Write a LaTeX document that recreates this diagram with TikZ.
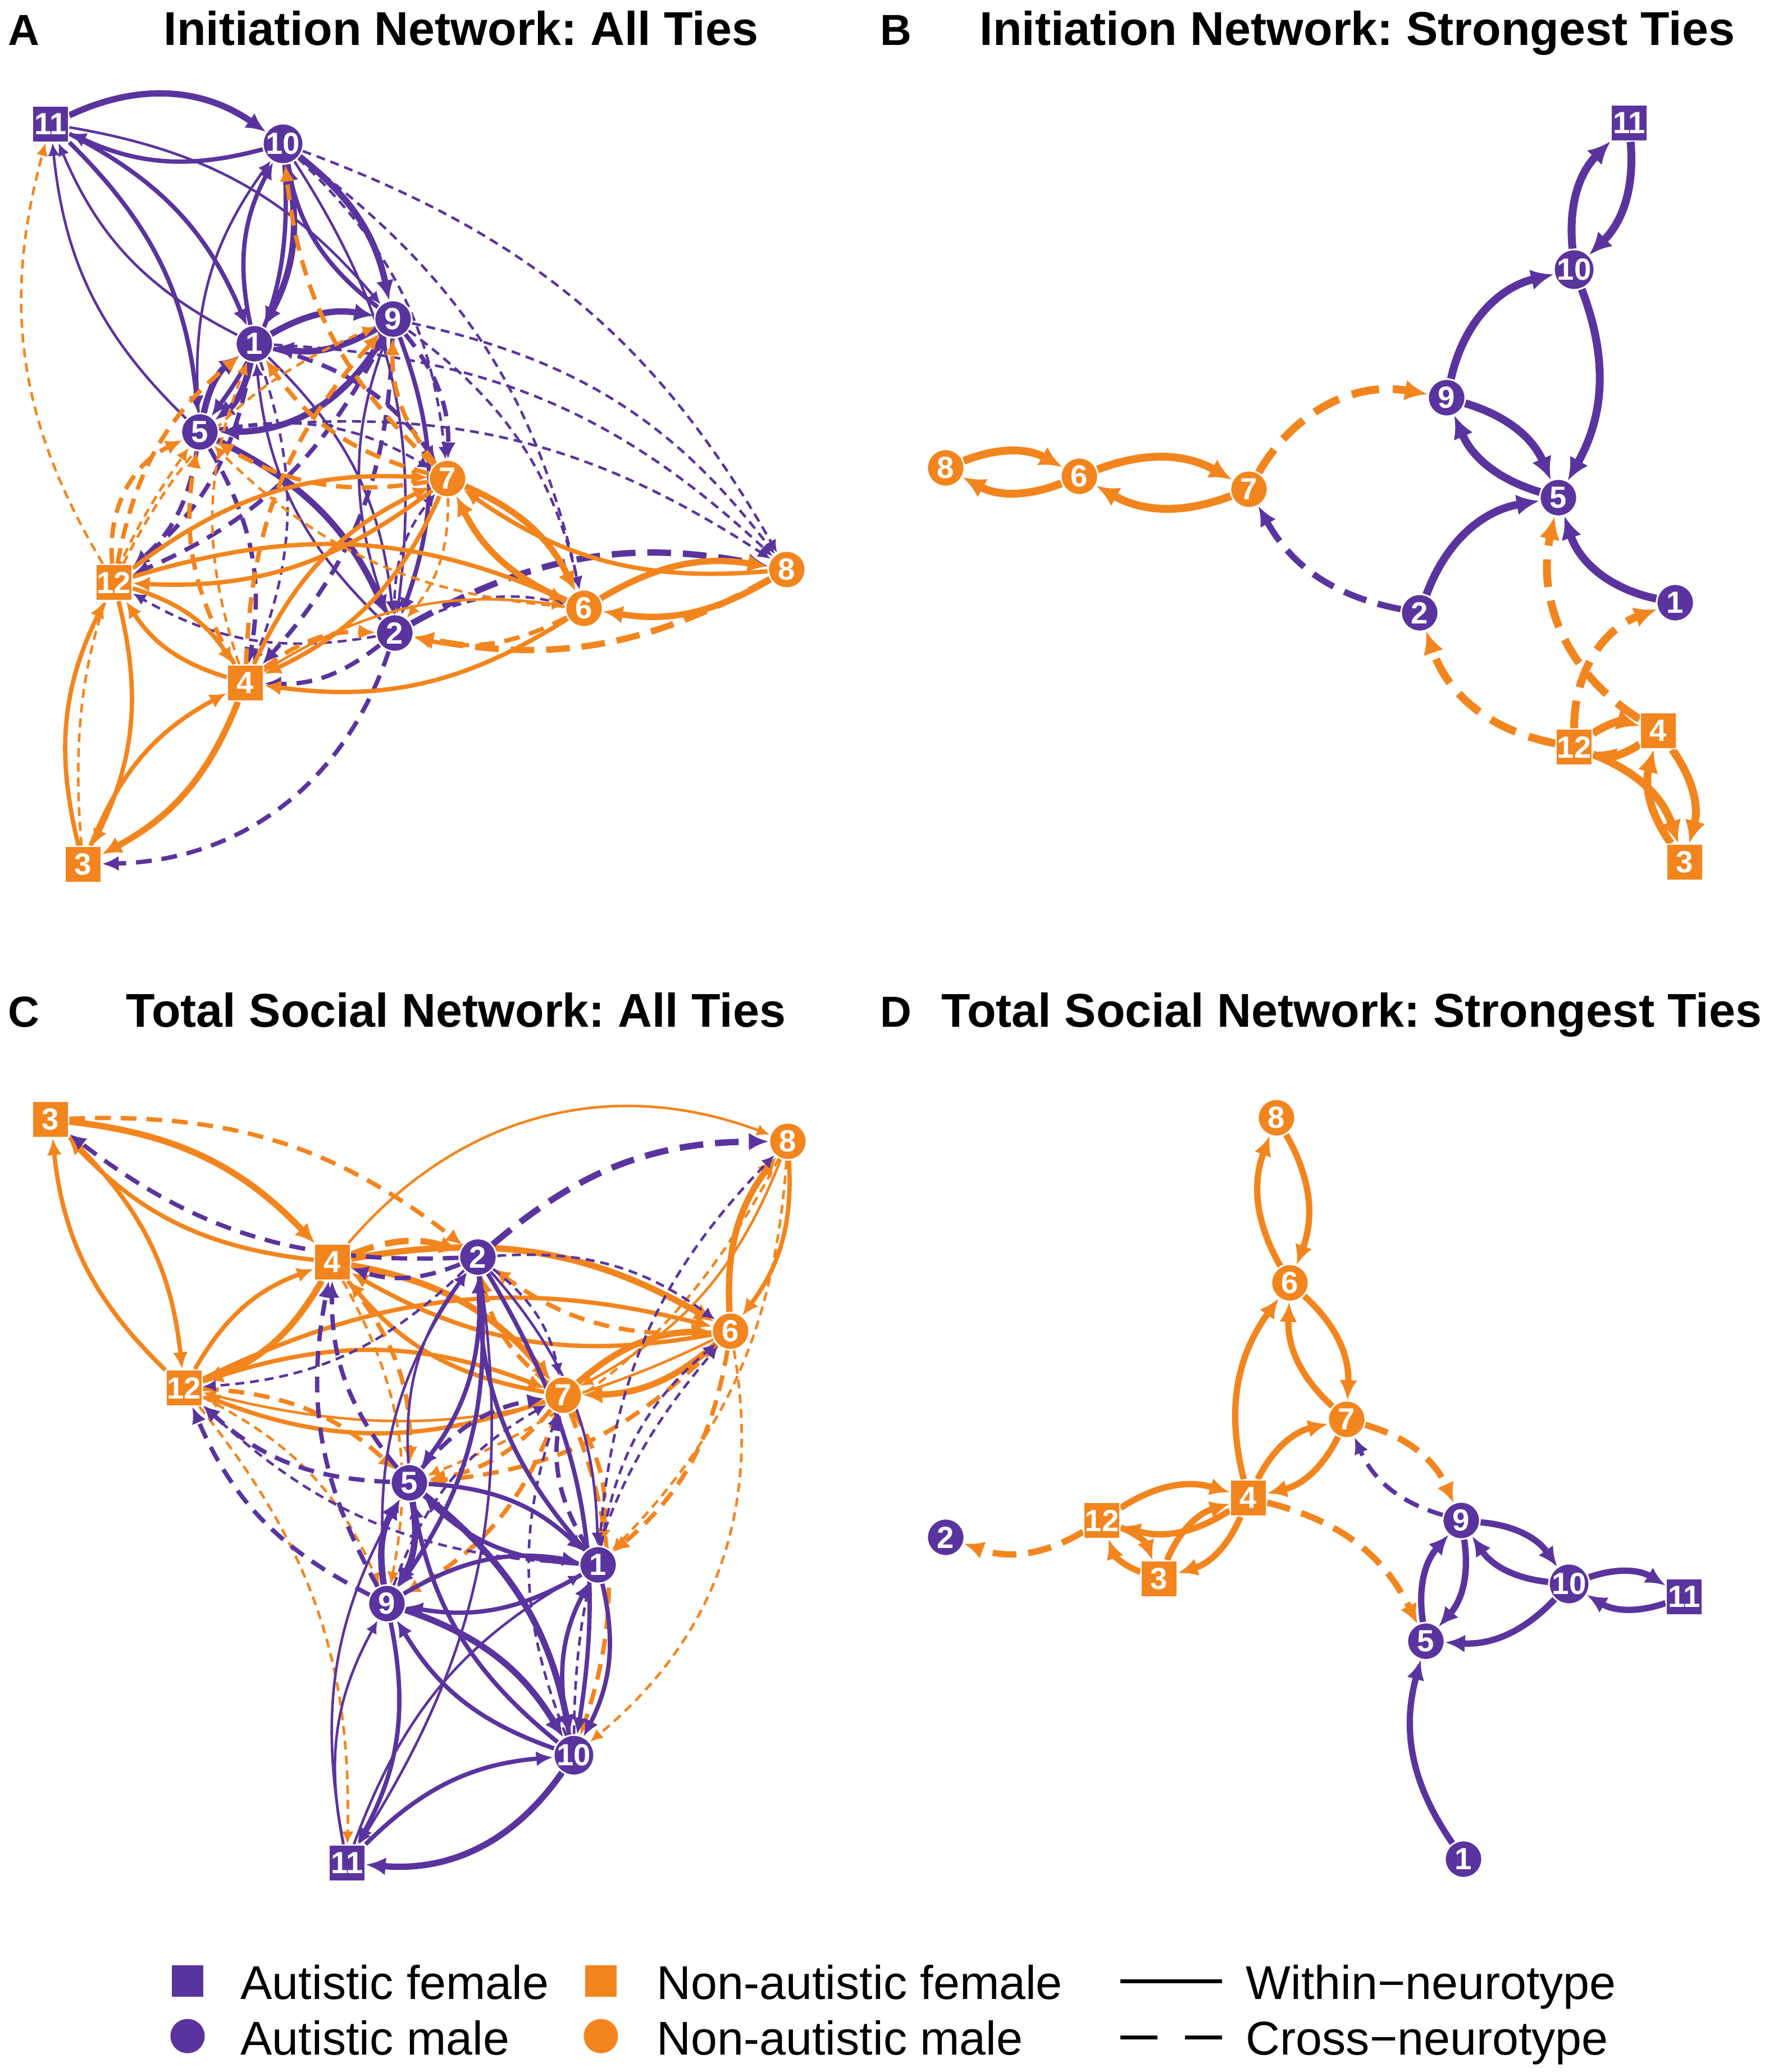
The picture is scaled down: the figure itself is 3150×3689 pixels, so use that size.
\documentclass[tikz,border=0pt]{standalone}
\usepackage{fontspec}
\setmainfont{Liberation Sans}
\usetikzlibrary{arrows.meta}
\definecolor{aut}{RGB}{90,52,158}
\definecolor{nonaut}{RGB}{243,133,30}
\pgfdeclarelayer{bg}
\pgfdeclarelayer{edges}
\pgfsetlayers{bg,edges,main}
\frenchspacing
\tikzset{
  nd/.style={inner sep=0pt, draw=white, line width=0.8pt, text=white, font=\bfseries\fontsize{15.5}{15.5}\selectfont},
  am/.style={nd, circle, fill=aut, minimum size=0.66cm},
  af/.style={nd, rectangle, fill=aut, minimum size=0.64cm},
  nm/.style={nd, circle, fill=nonaut, minimum size=0.66cm},
  nf/.style={nd, rectangle, fill=nonaut, minimum size=0.64cm},
  w1/.style={line width=1.3pt, -{Latex[length=6.5pt,width=6pt]}},
  w2/.style={line width=2.2pt, -{Latex[length=8.5pt,width=7.5pt]}},
  w3/.style={line width=3.2pt, -{Latex[length=10pt,width=9pt]}},
  w4/.style={line width=4pt, -{Latex[length=11.5pt,width=10.5pt]}},
  p1/.style={draw=aut, w1}, p2/.style={draw=aut, w2}, p3/.style={draw=aut, w3}, p4/.style={draw=aut, w4},
  o1/.style={draw=nonaut, w1}, o2/.style={draw=nonaut, w2}, o3/.style={draw=nonaut, w3}, o4/.style={draw=nonaut, w4},
  pd1/.style={draw=aut, w1, dash pattern=on 4.5pt off 3pt},
  pd2/.style={draw=aut, w2, dash pattern=on 8pt off 5pt},
  pd3/.style={draw=aut, w3, dash pattern=on 12pt off 6pt},
  pd4/.style={draw=aut, w4, dash pattern=on 14pt off 7pt},
  od1/.style={draw=nonaut, w1, dash pattern=on 4.5pt off 3pt},
  od2/.style={draw=nonaut, w2, dash pattern=on 8pt off 5pt},
  od3/.style={draw=nonaut, w3, dash pattern=on 12pt off 6pt},
  od4/.style={draw=nonaut, w4, dash pattern=on 14pt off 7pt},
  ttl/.style={font=\bfseries\fontsize{24}{28}\selectfont, inner sep=0pt, anchor=base},
  lbl/.style={font=\bfseries\fontsize{22}{26}\selectfont, inner sep=0pt, anchor=base west},
  lgt/.style={font=\fontsize{24}{28}\selectfont, inner sep=0pt, anchor=base west},
}
\begin{document}
\begin{tikzpicture}[x=0.01cm, y=-0.01cm]
\useasboundingbox (0,0) rectangle (3150,3689);
\begin{pgfonlayer}{bg}
\fill[white] (0,0) rectangle (3150,3689);
\end{pgfonlayer}

% ---------- titles ----------
\node[lbl] (LA) at (14,80) {A};
\node[ttl] (TA) at (821,80) {Initiation Network: All Ties};
\node[lbl] (LB) at (1567,80) {B};
\node[ttl] (TB) at (2417,80) {Initiation Network: Strongest Ties};
\node[lbl] (LC) at (14,1828) {C};
\node[ttl] (TC) at (812,1828) {Total Social Network: All Ties};
\node[lbl] (LD) at (1567,1828) {D};
\node[ttl] (TD) at (2407,1828) {Total Social Network: Strongest Ties};

% ---------- panel A nodes ----------
\node[am] (a1) at (453,612) {1};
\node[am] (a2) at (703,1127) {2};
\node[nf] (a3) at (148,1539) {3};
\node[nf] (a4) at (437,1216) {4};
\node[am] (a5) at (356,769) {5};
\node[nm] (a6) at (1040,1083) {6};
\node[nm] (a7) at (797,852) {7};
\node[nm] (a8) at (1401,1014) {8};
\node[am] (a9) at (700,568) {9};
\node[am] (a10) at (504,256) {10};
\node[af] (a11) at (90,221) {11};
\node[nf] (a12) at (203,1037) {12};

% ---------- panel B nodes ----------
\node[am] (b1) at (2983,1073) {1};
\node[am] (b2) at (2528,1091) {2};
\node[nf] (b3) at (3000,1535) {3};
\node[nf] (b4) at (2953,1301) {4};
\node[am] (b5) at (2775,886) {5};
\node[nm] (b6) at (1922,848) {6};
\node[nm] (b7) at (2224,871) {7};
\node[nm] (b8) at (1684,833) {8};
\node[am] (b9) at (2576,708) {9};
\node[am] (b10) at (2803,480) {10};
\node[af] (b11) at (2901,219) {11};
\node[nf] (b12) at (2803,1330) {12};

% ---------- panel C nodes ----------
\node[am] (c1) at (1065,2786) {1};
\node[am] (c2) at (851,2238) {2};
\node[nf] (c3) at (90,1993) {3};
\node[nf] (c4) at (592,2247) {4};
\node[am] (c5) at (729,2640) {5};
\node[nm] (c6) at (1301,2370) {6};
\node[nm] (c7) at (1003,2484) {7};
\node[nm] (c8) at (1403,2032) {8};
\node[am] (c9) at (689,2855) {9};
\node[am] (c10) at (1022,3125) {10};
\node[af] (c11) at (618,3317) {11};
\node[nf] (c12) at (328,2471) {12};

% ---------- panel D nodes ----------
\node[am] (d1) at (2606,3310) {1};
\node[am] (d2) at (1684,2737) {2};
\node[nf] (d3) at (2064,2811) {3};
\node[nf] (d4) at (2223,2667) {4};
\node[am] (d5) at (2539,2922) {5};
\node[nm] (d6) at (2297,2284) {6};
\node[nm] (d7) at (2398,2527) {7};
\node[nm] (d8) at (2273,1990) {8};
\node[am] (d9) at (2602,2707) {9};
\node[am] (d10) at (2794,2820) {10};
\node[af] (d11) at (2999,2843) {11};
\node[nf] (d12) at (1962,2707) {12};

\begin{pgfonlayer}{edges}
% ---------- panel A edges ----------
\begin{scope}[bend left=20]
\draw[p3,bend left=30] (a11) to (a10); \draw[p2] (a10) to (a11);
\draw[p2] (a11) to (a1); \draw[p1] (a1) to (a11);
\draw[p2] (a11) to (a5); \draw[p1] (a5) to (a11);
\draw[p1] (a11) to (a9);
\draw[p3] (a10) to (a1); \draw[p2] (a1) to (a10);
\draw[p3] (a10) to (a9); \draw[p2] (a9) to (a10);
\draw[p2] (a10) to (a5); \draw[p1] (a5) to (a10);
\draw[p1] (a10) to (a2);
\draw[p3] (a1) to (a9); \draw[p3] (a9) to (a1);
\draw[p3] (a1) to (a5); \draw[p3] (a5) to (a1);
\draw[p3,bend left=30] (a9) to (a5);
\draw[p3] (a5) to (a2);
\draw[p2] (a9) to (a2); \draw[p1] (a2) to (a9);
\draw[p1] (a1) to (a2); \draw[p1] (a2) to (a1);
\draw[pd1] (a9) to (a8); \draw[pd1] (a10) to (a8); \draw[pd1] (a1) to (a8); \draw[pd1] (a5) to (a8);
\draw[pd1] (a9) to (a6); \draw[pd1] (a10) to (a6);
\draw[pd1] (a5) to (a7); \draw[pd2] (a1) to (a7); \draw[pd2] (a9) to (a7); \draw[pd1] (a10) to (a7);
\draw[pd2] (a5) to (a12); \draw[pd2] (a1) to (a12); \draw[pd2] (a9) to (a12);
\draw[pd2] (a5) to (a4); \draw[pd2] (a2) to (a4); \draw[pd1] (a1) to (a4); \draw[pd2] (a9) to (a4);
\draw[pd2,bend left=35] (a2) to (a3);
\draw[pd3] (a2) to (a8);
\draw[pd1] (a2) to (a12); \draw[pd1] (a2) to (a6); \draw[pd1] (a2) to (a7);
\draw[o2] (a7) to (a12); \draw[o2] (a12) to (a7);
\draw[o2] (a7) to (a4); \draw[o2] (a4) to (a7);
\draw[o3] (a7) to (a6); \draw[o3] (a6) to (a7);
\draw[o3] (a6) to (a8); \draw[o3] (a8) to (a6);
\draw[o2] (a8) to (a7);
\draw[o2] (a6) to (a4); \draw[o1] (a4) to (a6);
\draw[o2] (a12) to (a4); \draw[o2] (a4) to (a12);
\draw[o2] (a12) to (a3); \draw[o2] (a3) to (a12);
\draw[o3] (a4) to (a3); \draw[o2] (a3) to (a4);
\draw[o2] (a12) to (a6);
\draw[od1,bend left=23] (a12) to (a11);
\draw[od2,bend left=35] (a12) to (a5); \draw[od2] (a4) to (a5); \draw[od2] (a7) to (a5);
\draw[od2] (a7) to (a1); \draw[od1] (a4) to (a1);
\draw[od2] (a7) to (a9); \draw[od2] (a4) to (a9);
\draw[od2] (a7) to (a10);
\draw[od2] (a6) to (a2); \draw[od3] (a8) to (a2);
\draw[od2] (a4) to (a2); \draw[od1] (a7) to (a2);
\draw[od2] (a12) to (a1); \draw[od1] (a3) to (a5);
\draw[od1] (a12) to (a9); \draw[od1] (a6) to (a5);
\end{scope}

% ---------- panel B edges ----------
\begin{scope}[bend left=25]
\draw[o4] (b8) to (b6); \draw[o4] (b6) to (b8);
\draw[o4] (b6) to (b7); \draw[o4] (b7) to (b6);
\draw[od4,bend left=35] (b7) to (b9);
\draw[pd3] (b2) to (b7);
\draw[p4,bend left=32] (b9) to (b10);
\draw[p4] (b10) to (b5);
\draw[p4] (b11) to (b10); \draw[p4] (b10) to (b11);
\draw[p4] (b9) to (b5); \draw[p4] (b5) to (b9);
\draw[p4,bend left=30] (b2) to (b5);
\draw[p4,bend left=30] (b1) to (b5);
\draw[od4,bend left=35] (b4) to (b5);
\draw[od4,bend left=35] (b12) to (b1);
\draw[od4,bend left=30] (b12) to (b2);
\draw[o4] (b12) to (b4); \draw[o4] (b4) to (b12);
\draw[o4] (b12) to (b3);
\draw[o4] (b4) to (b3); \draw[o4] (b3) to (b4);
\end{scope}

% ---------- panel C edges ----------
\begin{scope}[bend left=20]
\draw[o3] (c3) to (c4); \draw[o2] (c4) to (c3);
\draw[o2] (c3) to (c12); \draw[o2] (c12) to (c3);
\draw[o1,bend left=35] (c4) to (c8);
\draw[o3] (c4) to (c12); \draw[o2] (c12) to (c4);
\draw[o3] (c4) to (c7); \draw[o2] (c7) to (c4);
\draw[o3] (c4) to (c6); \draw[o2] (c6) to (c4);
\draw[o2] (c12) to (c7); \draw[o2] (c7) to (c12);
\draw[o2] (c12) to (c6); \draw[o1] (c6) to (c12);
\draw[o3] (c6) to (c7); \draw[o3] (c7) to (c6);
\draw[o3] (c6) to (c8); \draw[o2] (c8) to (c6);
\draw[o1] (c8) to (c7);
\draw[od2] (c3) to (c2);
\draw[od1] (c12) to (c11);
\draw[od3] (c4) to (c2); \draw[od2] (c4) to (c5); \draw[od1] (c4) to (c9);
\draw[od2] (c12) to (c5); \draw[od1] (c12) to (c9);
\draw[od2] (c7) to (c5); \draw[od2] (c7) to (c9); \draw[od2] (c7) to (c1); \draw[od2] (c7) to (c10); \draw[od2] (c7) to (c2);
\draw[od2] (c6) to (c1); \draw[od1,bend left=30] (c6) to (c10); \draw[od2] (c6) to (c2); \draw[od2] (c6) to (c5);
\draw[od1] (c8) to (c1); \draw[od1] (c8) to (c5);
\draw[p2] (c2) to (c5); \draw[p1] (c5) to (c2);
\draw[p2] (c2) to (c9); \draw[p1] (c9) to (c2);
\draw[p1] (c2) to (c1); \draw[p2] (c1) to (c2);
\draw[p2] (c2) to (c10); \draw[p1] (c2) to (c11);
\draw[p3] (c5) to (c9); \draw[p3] (c9) to (c5);
\draw[p2] (c5) to (c1); \draw[p2] (c1) to (c5);
\draw[p3] (c5) to (c10); \draw[p2] (c10) to (c5);
\draw[p2] (c9) to (c1); \draw[p2] (c1) to (c9);
\draw[p3] (c9) to (c10); \draw[p2] (c10) to (c9);
\draw[p2] (c9) to (c11); \draw[p1] (c11) to (c9);
\draw[p2] (c1) to (c10); \draw[p2] (c10) to (c1);
\draw[p3,bend left=30] (c10) to (c11); \draw[p2] (c11) to (c10);
\draw[p1] (c11) to (c1); \draw[p1] (c11) to (c5);
\draw[pd2] (c2) to (c4); \draw[pd3] (c2) to (c8); \draw[pd1] (c2) to (c12); \draw[pd1] (c2) to (c6); \draw[pd1] (c2) to (c7); \draw[pd2] (c2) to (c3);
\draw[pd2] (c5) to (c4); \draw[pd2] (c5) to (c12); \draw[pd2] (c5) to (c7);
\draw[pd2] (c9) to (c4); \draw[pd2] (c9) to (c12); \draw[pd1] (c9) to (c7);
\draw[pd1] (c1) to (c12); \draw[pd1] (c1) to (c6); \draw[pd1] (c1) to (c8); \draw[pd2] (c1) to (c7);
\draw[pd1] (c10) to (c6); \draw[pd1] (c10) to (c7);
\end{scope}

% ---------- panel D edges ----------
\begin{scope}[bend left=25]
\draw[o3] (d8) to (d6); \draw[o3] (d6) to (d8);
\draw[o3] (d6) to (d7); \draw[o3] (d7) to (d6);
\draw[o3] (d4) to (d6);
\draw[o3] (d4) to (d7); \draw[o3] (d7) to (d4);
\draw[o3] (d12) to (d4); \draw[o3] (d4) to (d12);
\draw[o3] (d4) to (d3); \draw[o3] (d3) to (d4);
\draw[o3] (d12) to (d3); \draw[o3] (d3) to (d12);
\draw[od3] (d12) to (d2);
\draw[od3] (d7) to (d9);
\draw[pd2] (d9) to (d7);
\draw[od3] (d4) to (d5);
\draw[p3] (d9) to (d10); \draw[p3] (d10) to (d9);
\draw[p3] (d9) to (d5); \draw[p3] (d5) to (d9);
\draw[p3] (d10) to (d5);
\draw[p3] (d10) to (d11); \draw[p3] (d11) to (d10);
\draw[p3] (d1) to (d5);
\end{scope}
\end{pgfonlayer}

% ---------- legend ----------
\node[af, draw=none, minimum size=0.56cm] (k1) at (334,3527) {};
\node[am, draw=none, minimum size=0.61cm] (k2) at (334,3625) {};
\node[nf, draw=none, minimum size=0.56cm] (k3) at (1070,3527) {};
\node[nm, draw=none, minimum size=0.61cm] (k4) at (1070,3625) {};
\node[lgt] (kt1) at (428,3559) {Autistic female};
\node[lgt] (kt2) at (428,3658) {Autistic male};
\node[lgt] (kt3) at (1169,3559) {Non-autistic female};
\node[lgt] (kt4) at (1169,3658) {Non-autistic male};
\node[lgt] (kt5) at (2218,3559) {Within−neurotype};
\node[lgt] (kt6) at (2218,3658) {Cross−neurotype};
\coordinate (ks1) at (1995,3527);
\coordinate (ke1) at (2176,3527);
\coordinate (ks2) at (1995,3627);
\coordinate (ke2) at (2176,3627);
\draw[line width=2pt] (ks1) -- (ke1);
\draw[line width=2pt, dash pattern=on 18.8pt off 13.9pt] (ks2) -- (ke2);
\end{tikzpicture}
\end{document}
